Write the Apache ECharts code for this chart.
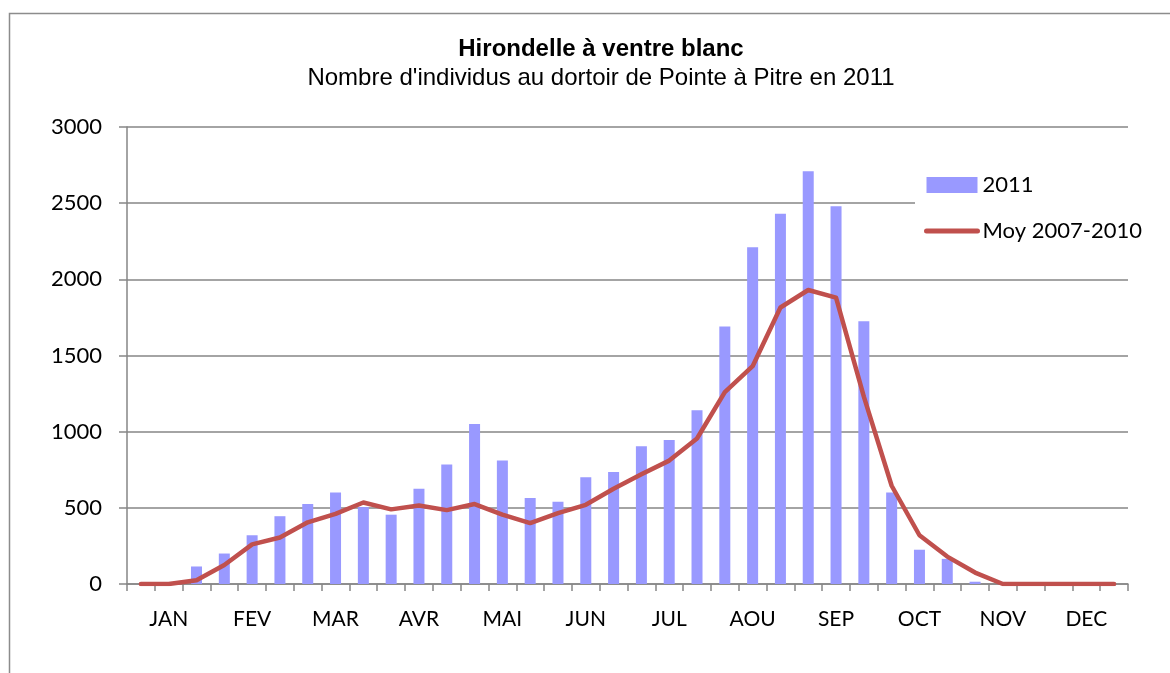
<!DOCTYPE html>
<html>
<head>
<meta charset="utf-8">
<script src="https://cdn.jsdelivr.net/npm/echarts@6/dist/echarts.min.js"></script>
<style>
  html, body { margin: 0; padding: 0; background: #fff; }
  #chart { width: 1170px; height: 673px; }
</style>
</head>
<body>
<div id="chart"></div>
<script>
// mois affichés sous l'axe (3 relevés par mois)
const months = ['JAN', 'FEV', 'MAR', 'AVR', 'MAI', 'JUN', 'JUL', 'AOU', 'SEP', 'OCT', 'NOV', 'DEC'];
const yTicks = [0, 500, 1000, 1500, 2000, 2500, 3000];

// comptages 2011 (barres)
const count2011 = [0, 0, 115, 200, 320, 445, 525, 600, 505, 455, 625, 785,
  1050, 810, 565, 540, 700, 735, 905, 945, 1140, 1690, 2210, 2430,
  2710, 2480, 1725, 600, 225, 165, 15, 0, 0, 0, 0, 0];

// moyenne 2007-2010 (ligne)
const moy0710 = [0, 0, 25, 125, 260, 305, 405, 460, 535, 490, 515, 485,
  525, 455, 400, 465, 520, 625, 720, 810, 955, 1260, 1430, 1815,
  1930, 1880, 1230, 645, 320, 180, 75, 0, 0, 0, 0, 0];

// 36 catégories : le nom du mois sur la catégorie du milieu
const categories = [];
months.forEach(m => { categories.push('', m, ''); });

const chart = echarts.init(document.getElementById('chart'));
const gray = '#868686';
const red = '#C0504D';
const font = 'Lato, "Open Sans", sans-serif';
const titleFont = '"Liberation Sans", Arial, sans-serif';

const option = {
  animation: false,
  backgroundColor: '#fff',
  graphic: [
    {
      // cadre du graphique (haut et gauche visibles)
      type: 'rect',
      shape: { x: 9.5, y: 13.5, width: 1300, height: 800 },
      style: { fill: 'none', stroke: '#8c8c8c', lineWidth: 1.5 },
      silent: true
    }
  ],
  title: {
    text: 'Hirondelle à ventre blanc',
    subtext: "Nombre d'individus au dortoir de Pointe à Pitre en 2011",
    left: 596,
    top: 32,
    textAlign: 'center',
    itemGap: 5,
    textStyle: { fontFamily: titleFont, fontWeight: 'bold', fontSize: 24, color: '#000' },
    subtextStyle: { fontFamily: titleFont, fontSize: 24, color: '#000' }
  },
  legend: {
    orient: 'vertical',
    left: 915,
    top: 164,
    padding: [10, 20, 10, 9],
    backgroundColor: '#fff',
    itemWidth: 51,
    itemHeight: 16,
    itemGap: 24,
    textStyle: { fontFamily: font, fontSize: 22, color: '#000' },
    data: [
      { name: '2011', icon: 'rect' },
      {
        name: 'Moy 2007-2010',
        itemStyle: { opacity: 0 },
        lineStyle: { color: red, width: 5, cap: 'round' }
      }
    ]
  },
  grid: {
    left: 127,
    right: 42,
    top: 127,
    bottom: 89,
    containLabel: false
  },
  xAxis: {
    type: 'category',
    data: categories,
    boundaryGap: true,
    axisLine: { lineStyle: { color: gray, width: 1.5 } },
    axisTick: { show: true, interval: 0, length: 7, lineStyle: { color: gray, width: 1.5 } },
    axisLabel: { interval: 0, color: '#000', fontFamily: font, fontSize: 21, margin: 25 },
    splitLine: { show: false }
  },
  yAxis: {
    type: 'value',
    min: yTicks[0],
    max: yTicks[yTicks.length - 1],
    interval: 500,
    axisLine: { show: true, lineStyle: { color: gray, width: 1.5 } },
    axisTick: { show: true, length: 8, lineStyle: { color: gray, width: 1.5 } },
    axisLabel: {
      color: '#000', fontFamily: font, fontSize: 22, margin: 25,
      formatter: v => String(v)
    },
    splitLine: { show: true, lineStyle: { color: gray, width: 1.5 } }
  },
  series: [
    {
      name: '2011',
      type: 'bar',
      data: count2011,
      barWidth: 11,
      itemStyle: { color: '#9999FF' },
      z: 2
    },
    {
      name: 'Moy 2007-2010',
      type: 'line',
      data: moy0710,
      symbol: 'none',
      smooth: false,
      lineStyle: { color: red, width: 4.5, cap: 'round', join: 'round' },
      itemStyle: { color: red },
      z: 3
    }
  ]
};

chart.setOption(option);
</script>
</body>
</html>
